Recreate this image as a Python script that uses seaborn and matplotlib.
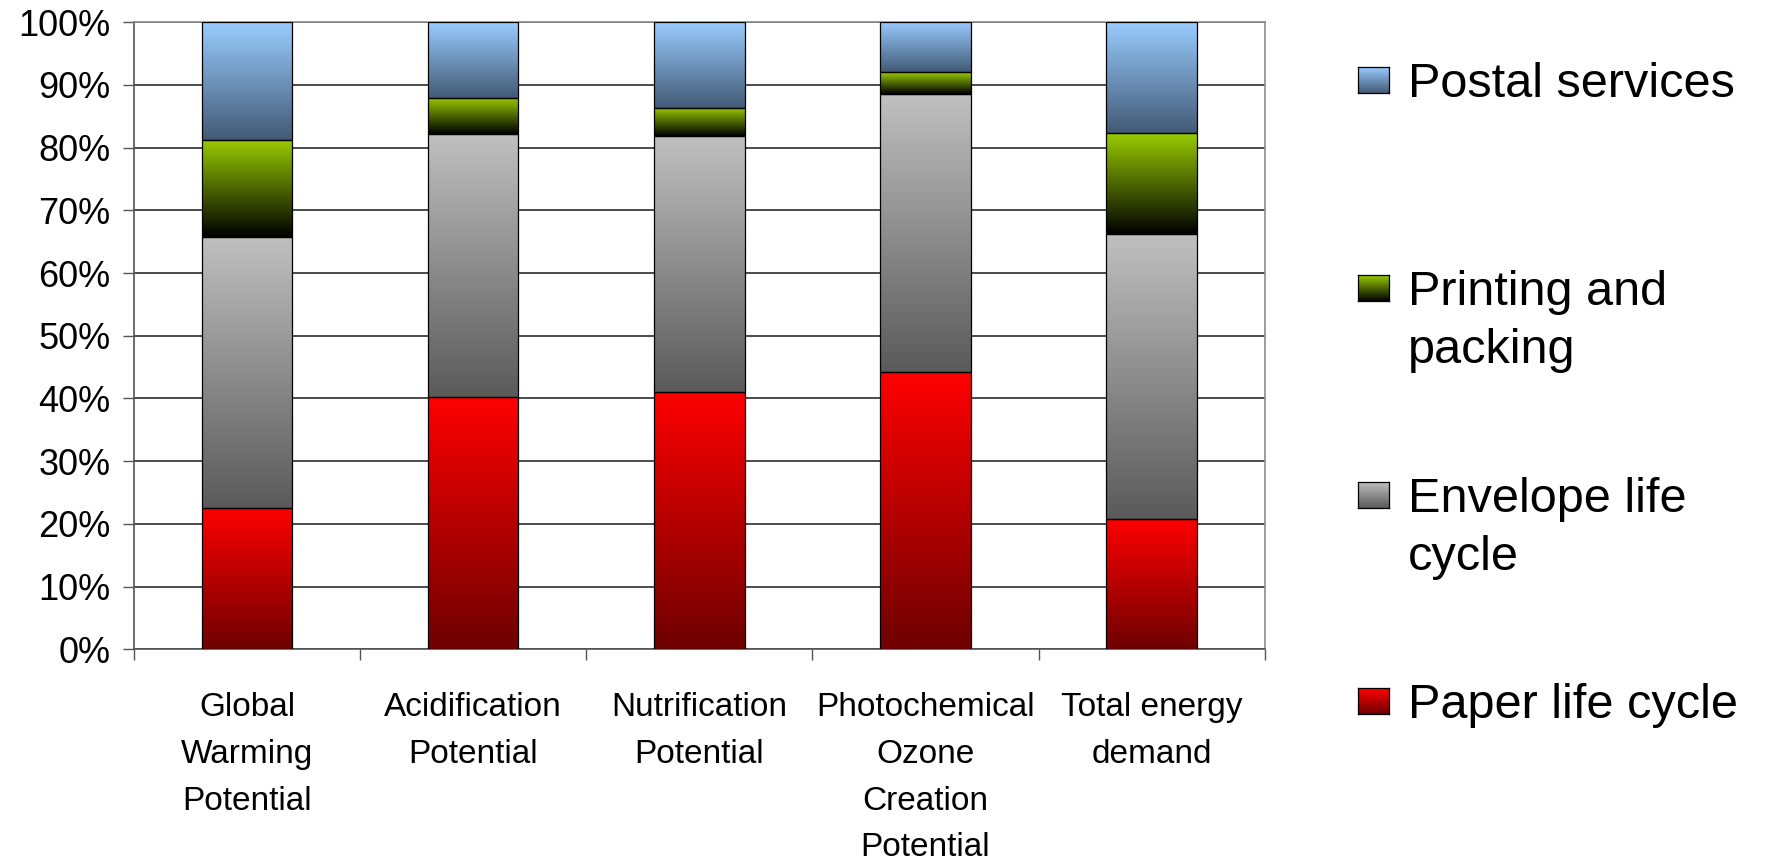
import numpy as np
import pandas as pd
import matplotlib
matplotlib.use("Agg")
import matplotlib.pyplot as plt
from matplotlib.colors import LinearSegmentedColormap
import seaborn as sns

# Data (percent of total)
categories = ["Global\nWarming\nPotential", "Acidification\nPotential",
              "Nutrification\nPotential", "Photochemical\nOzone\nCreation\nPotential",
              "Total energy\ndemand"]
paper = [22.5, 40.2, 41.0, 44.2, 20.8]
envelope = [43.3, 42.0, 40.8, 44.3, 45.5]
printing = [15.5, 5.8, 4.5, 3.5, 16.0]
postal = [18.7, 12.0, 13.7, 8.0, 17.7]

series_names = ["Paper life cycle", "Envelope life\ncycle", "Printing and\npacking", "Postal services"]
# gradient (bottom dark -> top light) for each series
series_grad = [("#6E0000", "#FF0000"), ("#5A5A5A", "#C0C0C0"),
               ("#000000", "#99CC00"), ("#425A76", "#99CCFF")]

df = pd.DataFrame({"category": categories, "paper": paper, "envelope": envelope,
                   "printing": printing, "postal": postal})

sns.set_theme(style="white")
plt.rcParams["font.family"] = ["Liberation Sans", "DejaVu Sans"]
plt.rcParams["text.color"] = "black"
plt.rcParams["xtick.labelcolor"] = "black"
plt.rcParams["ytick.labelcolor"] = "black"

fig = plt.figure(figsize=(17.67, 8.61), dpi=100)
ax = fig.add_axes([0.0758, 0.2459, 0.6400, 0.7282])

cols = ["paper", "envelope", "printing", "postal"]
bottom = np.zeros(len(categories))
cmaps = []
for col, (lo, hi) in zip(cols, series_grad):
    sns.barplot(data=df, x="category", y=col, bottom=bottom, width=0.4, errorbar=None,
                color=hi, edgecolor="black", linewidth=0.9, ax=ax, zorder=3)
    cmaps.append(LinearSegmentedColormap.from_list(col, [lo, hi]))
    bottom = bottom + df[col].to_numpy()

# gradient fills clipped to each bar
grad = np.linspace(0, 1, 256).reshape(-1, 1)
n = len(categories)
for i, p in enumerate(ax.patches):
    cmap = cmaps[i // n]
    x0, y0, w, h = p.get_x(), p.get_y(), p.get_width(), p.get_height()
    im = ax.imshow(grad, extent=[x0, x0 + w, y0, y0 + h], origin="lower",
                   cmap=cmap, aspect="auto", zorder=2.9, interpolation="bilinear")
    im.set_clip_path(p)
    p.set_facecolor("none")

ax.set_xlim(-0.5, n - 0.5)
ax.set_ylim(0, 100)
ax.set_yticks(np.arange(0, 101, 10))
ax.set_yticklabels([f"{v}%" for v in range(0, 101, 10)])
ax.yaxis.grid(True, color="#1a1a1a", linewidth=1.1)
ax.xaxis.grid(False)
ax.set_axisbelow(True)

# boundaries get tick marks, centres get the labels
ax.set_xticks(np.arange(n + 1) - 0.5)
ax.set_xticklabels([])
ax.set_xticks(np.arange(n), minor=True)
ax.set_xticklabels(categories, minor=True, linespacing=1.65)
ax.tick_params(axis="x", which="major", length=8, width=1, color="#555555", direction="out", bottom=True)
ax.tick_params(axis="x", which="minor", length=0, pad=31, labelsize=24)
ax.tick_params(axis="y", length=8, width=1, color="#555555", direction="out", left=True,
               labelsize=26, pad=9)
ax.set_xlabel("")
ax.set_ylabel("")

for side in ["left", "bottom"]:
    ax.spines[side].set_color("#555555")
    ax.spines[side].set_linewidth(1.2)
for side in ["top", "right"]:
    ax.spines[side].set_color("#8c8c8c")
    ax.spines[side].set_linewidth(1.2)

# legend drawn to the right, top entry first
W, H = 1767, 861
legend_y = [80, 288, 495, 701]
for (name, (lo, hi)), yc in zip(list(zip(series_names, series_grad))[::-1], legend_y):
    mk = fig.add_axes([1358 / W, 1 - (yc + 13) / H, 31 / W, 26 / H])
    mk.imshow(grad, origin="lower", cmap=LinearSegmentedColormap.from_list(name, [lo, hi]),
              aspect="auto", interpolation="bilinear")
    mk.set_xticks([])
    mk.set_yticks([])
    for s in mk.spines.values():
        s.set_color("black")
        s.set_linewidth(0.9)
    fig.text(1408 / W, 1 - (yc - 18) / H, name, fontsize=35, va="top", ha="left",
             color="black", linespacing=1.36)

fig.savefig("out.png", dpi=100)
